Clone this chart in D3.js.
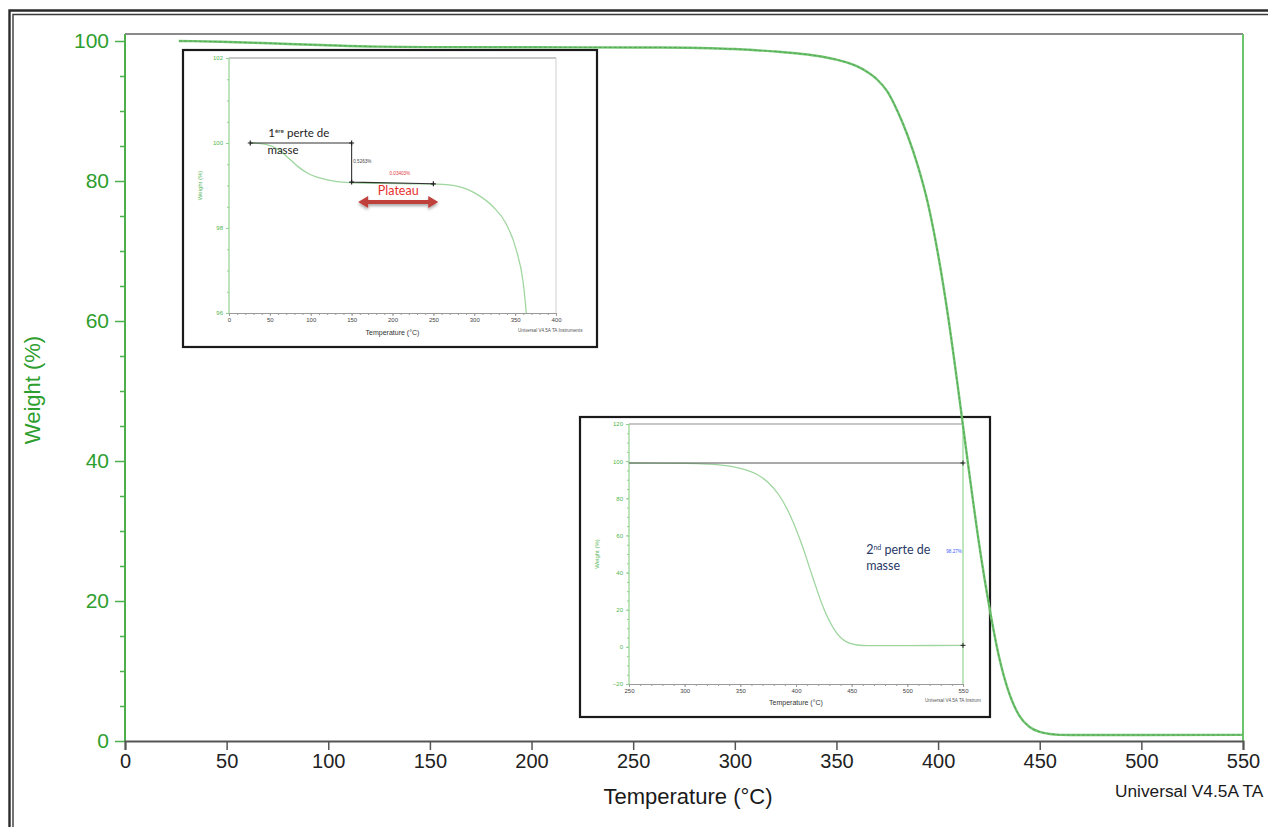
<!DOCTYPE html>
<html><head><meta charset="utf-8">
<script src="https://cdn.jsdelivr.net/npm/d3@7"></script>
<style>
html,body{margin:0;padding:0;background:#fff;overflow:hidden}
svg{display:block}
</style></head>
<body>
<svg id="chart" width="1268" height="827"></svg>
<script>
// ---------- DATA ----------
const mainTemp   = [26.5, 47, 71, 96, 124, 150, 200, 250, 263, 288, 300, 312, 320, 330, 340, 345, 350, 355, 360, 365, 370, 375, 380, 385, 390, 395, 400, 405, 410, 415, 420, 425, 430, 435, 440, 445, 450, 455, 460, 470, 500, 550];
const mainWeight = [100, 99.9, 99.67, 99.43, 99.19, 99.13, 99.1, 99.08, 99.07, 98.97, 98.85, 98.65, 98.5, 98.25, 97.9, 97.65, 97.35, 96.95, 96.4, 95.6, 94.5, 92.8, 90.0, 86.5, 82.2, 76.8, 69.5, 60.5, 50.0, 39.0, 28.5, 19.5, 12.0, 6.8, 3.6, 2.0, 1.3, 1.0, 0.88, 0.85, 0.85, 0.88];
const mainXTicks = [0, 50, 100, 150, 200, 250, 300, 350, 400, 450, 500, 550];
const mainYTicks = [0, 20, 40, 60, 80, 100];

const inset1Temp   = [27, 45, 60, 72, 84, 98, 119, 147, 188, 220, 254, 282, 302, 323, 339, 351.5, 360, 363.7];
const inset1Weight = [100.0, 99.97, 99.85, 99.66, 99.45, 99.27, 99.14, 99.07, 99.05, 99.04, 99.03, 98.97, 98.81, 98.5, 98.1, 97.48, 96.7, 96.0];
const inset1XTicks = [0, 50, 100, 150, 200, 250, 300, 350, 400];
const inset1YTicks = [96, 98, 100, 102];
const inset1Step1  = [[26, 100.0], [150, 100.0], [150, 99.08], [250, 99.04]];
const inset1Labels = ["0.5263%", "0.03403%", "Plateau"];

const inset2Temp   = [250, 300, 320, 335, 345, 355, 365, 375, 385, 395, 405, 415, 425, 435, 445, 455, 465, 500, 550];
const inset2Weight = [99.0, 98.8, 98.4, 97.7, 96.8, 95.3, 92.8, 88.5, 81.5, 70.5, 55.5, 37.5, 20.5, 8.8, 2.8, 1.0, 0.7, 0.7, 0.8];
const inset2XTicks = [250, 300, 350, 400, 450, 500, 550];
const inset2YTicks = [-20, 0, 20, 40, 60, 80, 100, 120];
const inset2Step   = [[250, 99.0], [550, 99.0], [550, 0.8]];
const inset2Label  = "98.27%";

// ---------- SETUP ----------
const svg = d3.select("#chart");
const GREEN = "#2e9e2e";
const FONT = "'Liberation Sans', Arial, sans-serif";

// outer double frame
svg.append("path").attr("d","M9.5,827 V10.5 H1268").attr("fill","none").attr("stroke","#2b2b2b").attr("stroke-width",2.4);
svg.append("path").attr("d","M13,827 V14.5 H1268").attr("fill","none").attr("stroke","#3a3a3a").attr("stroke-width",1.4);

// main scales
const x = d3.scaleLinear().domain([0, 550]).range([125, 1243]);
const y = d3.scaleLinear().domain([0, 100]).range([741, 41]);
const yTop = y(101);

// plot frame
svg.append("line").attr("x1",x(0)).attr("x2",x(550)).attr("y1",yTop).attr("y2",yTop).attr("stroke","#8a8a8a").attr("stroke-width",2);
svg.append("line").attr("x1",x(550)).attr("x2",x(550)).attr("y1",yTop).attr("y2",y(0)).attr("stroke","#6cc46c").attr("stroke-width",2);

// y axis
const yAx = svg.append("g").attr("transform",`translate(${x(0)},0)`)
  .call(d3.axisLeft(y).tickValues(mainYTicks).tickSize(10).tickPadding(6).tickFormat(d3.format("d")));
yAx.select(".domain").remove();
yAx.selectAll(".tick line").attr("stroke","#4caf4c").attr("stroke-width",1.5);
yAx.selectAll(".tick text").attr("fill",GREEN).attr("font-size",21).attr("font-family",FONT);
const yMinor = d3.range(0, 101, 5).filter(v => v % 20 !== 0);
const yAxMin = svg.append("g").attr("transform",`translate(${x(0)},0)`)
  .call(d3.axisLeft(y).tickValues(yMinor).tickSize(5).tickFormat(""));
yAxMin.select(".domain").remove();
yAxMin.selectAll(".tick line").attr("stroke","#4caf4c").attr("stroke-width",1.5);
svg.append("line").attr("x1",x(0)).attr("x2",x(0)).attr("y1",yTop).attr("y2",y(0)).attr("stroke","#4caf4c").attr("stroke-width",2);

// x axis
const xAx = svg.append("g").attr("transform",`translate(0,${y(0)})`)
  .call(d3.axisBottom(x).tickValues(mainXTicks).tickSize(9).tickPadding(4).tickFormat(d3.format("d")));
xAx.select(".domain").attr("stroke","#555").attr("stroke-width",2);
xAx.selectAll(".tick line").attr("stroke","#555").attr("stroke-width",1.5);
xAx.selectAll(".tick text").attr("fill","#222").attr("font-size",20).attr("font-family",FONT);

// titles
svg.append("text").attr("transform","translate(40,390) rotate(-90)").attr("text-anchor","middle")
  .attr("fill",GREEN).attr("font-size",22).attr("font-family",FONT).text("Weight (%)");
svg.append("text").attr("x",688).attr("y",804).attr("text-anchor","middle")
  .attr("fill","#1a1a1a").attr("font-size",22).attr("font-family",FONT).text("Temperature (°C)");
svg.append("text").attr("x",1115).attr("y",797)
  .attr("fill","#1a1a1a").attr("font-size",17.3).attr("font-family",FONT).text("Universal V4.5A TA");

// ---------- INSET helper ----------
function drawInset(o){
  const g = svg.append("g");
  g.append("rect").attr("x",o.box[0]).attr("y",o.box[1]).attr("width",o.box[2]).attr("height",o.box[3])
    .attr("fill","#fff").attr("stroke","#1a1a1a").attr("stroke-width",2.2);
  const ix = o.ix, iy = o.iy;
  const [x0,x1] = ix.range(), [yb,yt] = iy.range();
  g.append("line").attr("x1",x0).attr("x2",x1).attr("y1",yt).attr("y2",yt).attr("stroke","#b5b5b5").attr("stroke-width",1.6);
  g.append("line").attr("x1",x1).attr("x2",x1).attr("y1",yt).attr("y2",yb).attr("stroke",o.rightColor).attr("stroke-width",1);
  const ya = g.append("g").attr("transform",`translate(${x0},0)`)
    .call(d3.axisLeft(iy).tickValues(o.yTicks).tickSize(3).tickPadding(3).tickFormat(d3.format("d")));
  ya.select(".domain").remove();
  ya.selectAll(".tick line").attr("stroke","#8fd08f");
  ya.selectAll(".tick text").attr("fill","#4fb54f").attr("font-size",6).attr("font-family",FONT);
  const ym = g.append("g").attr("transform",`translate(${x0},0)`)
    .call(d3.axisLeft(iy).tickValues(o.yMinor).tickSize(2).tickFormat(""));
  ym.select(".domain").remove();
  ym.selectAll(".tick line").attr("stroke","#8fd08f");
  g.append("line").attr("x1",x0).attr("x2",x0).attr("y1",yt).attr("y2",yb).attr("stroke","#9ad69a").attr("stroke-width",1.3);
  const xa = g.append("g").attr("transform",`translate(0,${yb})`)
    .call(d3.axisBottom(ix).tickValues(o.xTicks).tickSize(3).tickPadding(2).tickFormat(d3.format("d")));
  xa.select(".domain").attr("stroke","#9a9a9a");
  xa.selectAll(".tick line").attr("stroke","#9a9a9a");
  xa.selectAll(".tick text").attr("fill","#444").attr("font-size",6).attr("font-family",FONT);
  const xm = g.append("g").attr("transform",`translate(0,${yb})`)
    .call(d3.axisBottom(ix).tickValues(o.xMinor).tickSize(2).tickFormat(""));
  xm.select(".domain").remove();
  xm.selectAll(".tick line").attr("stroke","#9a9a9a");
  g.append("text").attr("transform",`translate(${o.box[0]+19},${(yt+yb)/2}) rotate(-90)`).attr("text-anchor","middle")
    .attr("fill","#5cb85c").attr("font-size",6).attr("font-family",FONT).text("Weight (%)");
  g.append("text").attr("x",(x0+x1)/2).attr("y",o.box[1]+o.box[3]-12).attr("text-anchor","middle")
    .attr("fill","#333").attr("font-size",7).attr("font-family",FONT).text("Temperature (°C)");
  g.append("text").attr("x",o.uniX).attr("y",o.box[1]+o.box[3]-15)
    .attr("fill","#555").attr("font-size",4.6).attr("font-family",FONT).text(o.uniText);
  const pts = o.temp.map((t,i)=>[t,o.weight[i]]);
  g.append("path").datum(pts).attr("fill","none").attr("stroke","#9fd69f").attr("stroke-width",1.3)
    .attr("d", d3.line().x(d=>ix(d[0])).y(d=>iy(d[1])).curve(d3.curveMonotoneX));
  return g;
}

// ---------- INSET 1 ----------
const ix1 = d3.scaleLinear().domain([0,400]).range([229,556]);
const iy1 = d3.scaleLinear().domain([96,102]).range([313,58]);
const g1 = drawInset({box:[183,50,414,297], ix:ix1, iy:iy1, xTicks:inset1XTicks, yTicks:inset1YTicks,
  xMinor:d3.range(0,401,10), yMinor:d3.range(96,102.01,0.5), temp:inset1Temp, weight:inset1Weight,
  rightColor:"#cfcfcf", uniX:518, uniText:"Universal V4.5A TA Instruments"});
g1.append("path").datum(inset1Step1).attr("fill","none").attr("stroke","#333").attr("stroke-width",1.1)
  .attr("d", d3.line().x(d=>ix1(d[0])).y(d=>iy1(d[1])));
inset1Step1.forEach(d=>{
  g1.append("path").attr("d",`M${ix1(d[0])-2.5},${iy1(d[1])}h5M${ix1(d[0])},${iy1(d[1])-2.5}v5`).attr("stroke","#222").attr("stroke-width",1.2);
});
const t1 = g1.append("text").attr("x",ix1(48)).attr("y",iy1(100.13)).attr("fill","#222").attr("font-size",11.5).attr("font-family","Lato, 'Open Sans', sans-serif");
t1.append("tspan").text("1");
t1.append("tspan").attr("font-size",6.5).attr("dy",-4).text("ère");
t1.append("tspan").attr("dy",4).text(" perte de");
g1.append("text").attr("x",ix1(47)).attr("y",iy1(99.75)).attr("fill","#222").attr("font-size",11.5).attr("font-family","Lato, 'Open Sans', sans-serif").text("masse");
g1.append("text").attr("x",ix1(152)).attr("y",iy1(99.53)).attr("fill","#444").attr("font-size",4.6).attr("font-family",FONT).text(inset1Labels[0]);
g1.append("text").attr("x",ix1(209)).attr("y",iy1(99.25)).attr("text-anchor","middle").attr("fill","#e03a3a").attr("font-size",4.6).attr("font-family",FONT).text(inset1Labels[1]);
g1.append("text").attr("x",ix1(207)).attr("y",iy1(98.77)).attr("text-anchor","middle").attr("fill","#e8312f").attr("font-size",12.5).attr("font-family","Lato, 'Open Sans', sans-serif").text(inset1Labels[2]);
const defs = svg.append("defs");
const f = defs.append("filter").attr("id","sh").attr("x","-20%").attr("y","-50%").attr("width","140%").attr("height","250%");
f.append("feDropShadow").attr("dx",0).attr("dy",2).attr("stdDeviation",1.6).attr("flood-color","#000").attr("flood-opacity",0.35);
const ax0 = ix1(158), ax1 = ix1(256), ay = iy1(98.61);
g1.append("path").attr("filter","url(#sh)").attr("fill","#c0403a")
  .attr("d",`M${ax0},${ay} L${ax0+10},${ay-6} L${ax0+10},${ay-2} L${ax1-10},${ay-2} L${ax1-10},${ay-6} L${ax1},${ay} L${ax1-10},${ay+6} L${ax1-10},${ay+2} L${ax0+10},${ay+2} L${ax0+10},${ay+6} Z`);

// ---------- INSET 2 ----------
const ix2 = d3.scaleLinear().domain([250,550]).range([629,963]);
const iy2 = d3.scaleLinear().domain([-20,120]).range([684,424]);
const g2 = drawInset({box:[580,417,410,300], ix:ix2, iy:iy2, xTicks:inset2XTicks, yTicks:inset2YTicks,
  xMinor:d3.range(250,551,10), yMinor:d3.range(-20,121,5), temp:inset2Temp, weight:inset2Weight,
  rightColor:"#7fcf7f", uniX:925, uniText:"Universal V4.5A TA Instrum"});
g2.append("path").datum(inset2Step.slice(0,2)).attr("fill","none").attr("stroke","#555").attr("stroke-width",1.2)
  .attr("d", d3.line().x(d=>ix2(d[0])).y(d=>iy2(d[1])));
inset2Step.slice(1).forEach(d=>{
  g2.append("path").attr("d",`M${ix2(d[0])-2.5},${iy2(d[1])}h5M${ix2(d[0])},${iy2(d[1])-2.5}v5`).attr("stroke","#222").attr("stroke-width",1);
});
const t2 = g2.append("text").attr("x",ix2(463)).attr("y",iy2(50)).attr("fill","#2a3a68").attr("font-size",12.5).attr("font-family","Lato, 'Open Sans', sans-serif");
t2.append("tspan").text("2");
t2.append("tspan").attr("font-size",7).attr("dy",-4).text("nd");
t2.append("tspan").attr("dy",4).text(" perte de");
g2.append("text").attr("x",ix2(463)).attr("y",iy2(41.5)).attr("fill","#2a3a68").attr("font-size",12.5).attr("font-family","Lato, 'Open Sans', sans-serif").text("masse");
g2.append("text").attr("x",ix2(549)).attr("y",iy2(50.5)).attr("text-anchor","end").attr("fill","#3b5bff").attr("font-size",4.6).attr("font-family",FONT).text(inset2Label);

// ---------- MAIN CURVE (on top) ----------
const mainPts = mainTemp.map((t,i)=>[t, mainWeight[i]]);
const mline = d3.line().x(d=>x(d[0])).y(d=>y(d[1])).curve(d3.curveMonotoneX);
svg.append("path").datum(mainPts).attr("fill","none").attr("stroke","#72c472").attr("stroke-width",2.4).attr("d",mline);
svg.append("path").datum(mainPts).attr("fill","none").attr("stroke","#2f8a2f").attr("stroke-width",0.9)
  .attr("stroke-dasharray","3,2").attr("opacity",0.55).attr("d",mline);
</script>
</body></html>
